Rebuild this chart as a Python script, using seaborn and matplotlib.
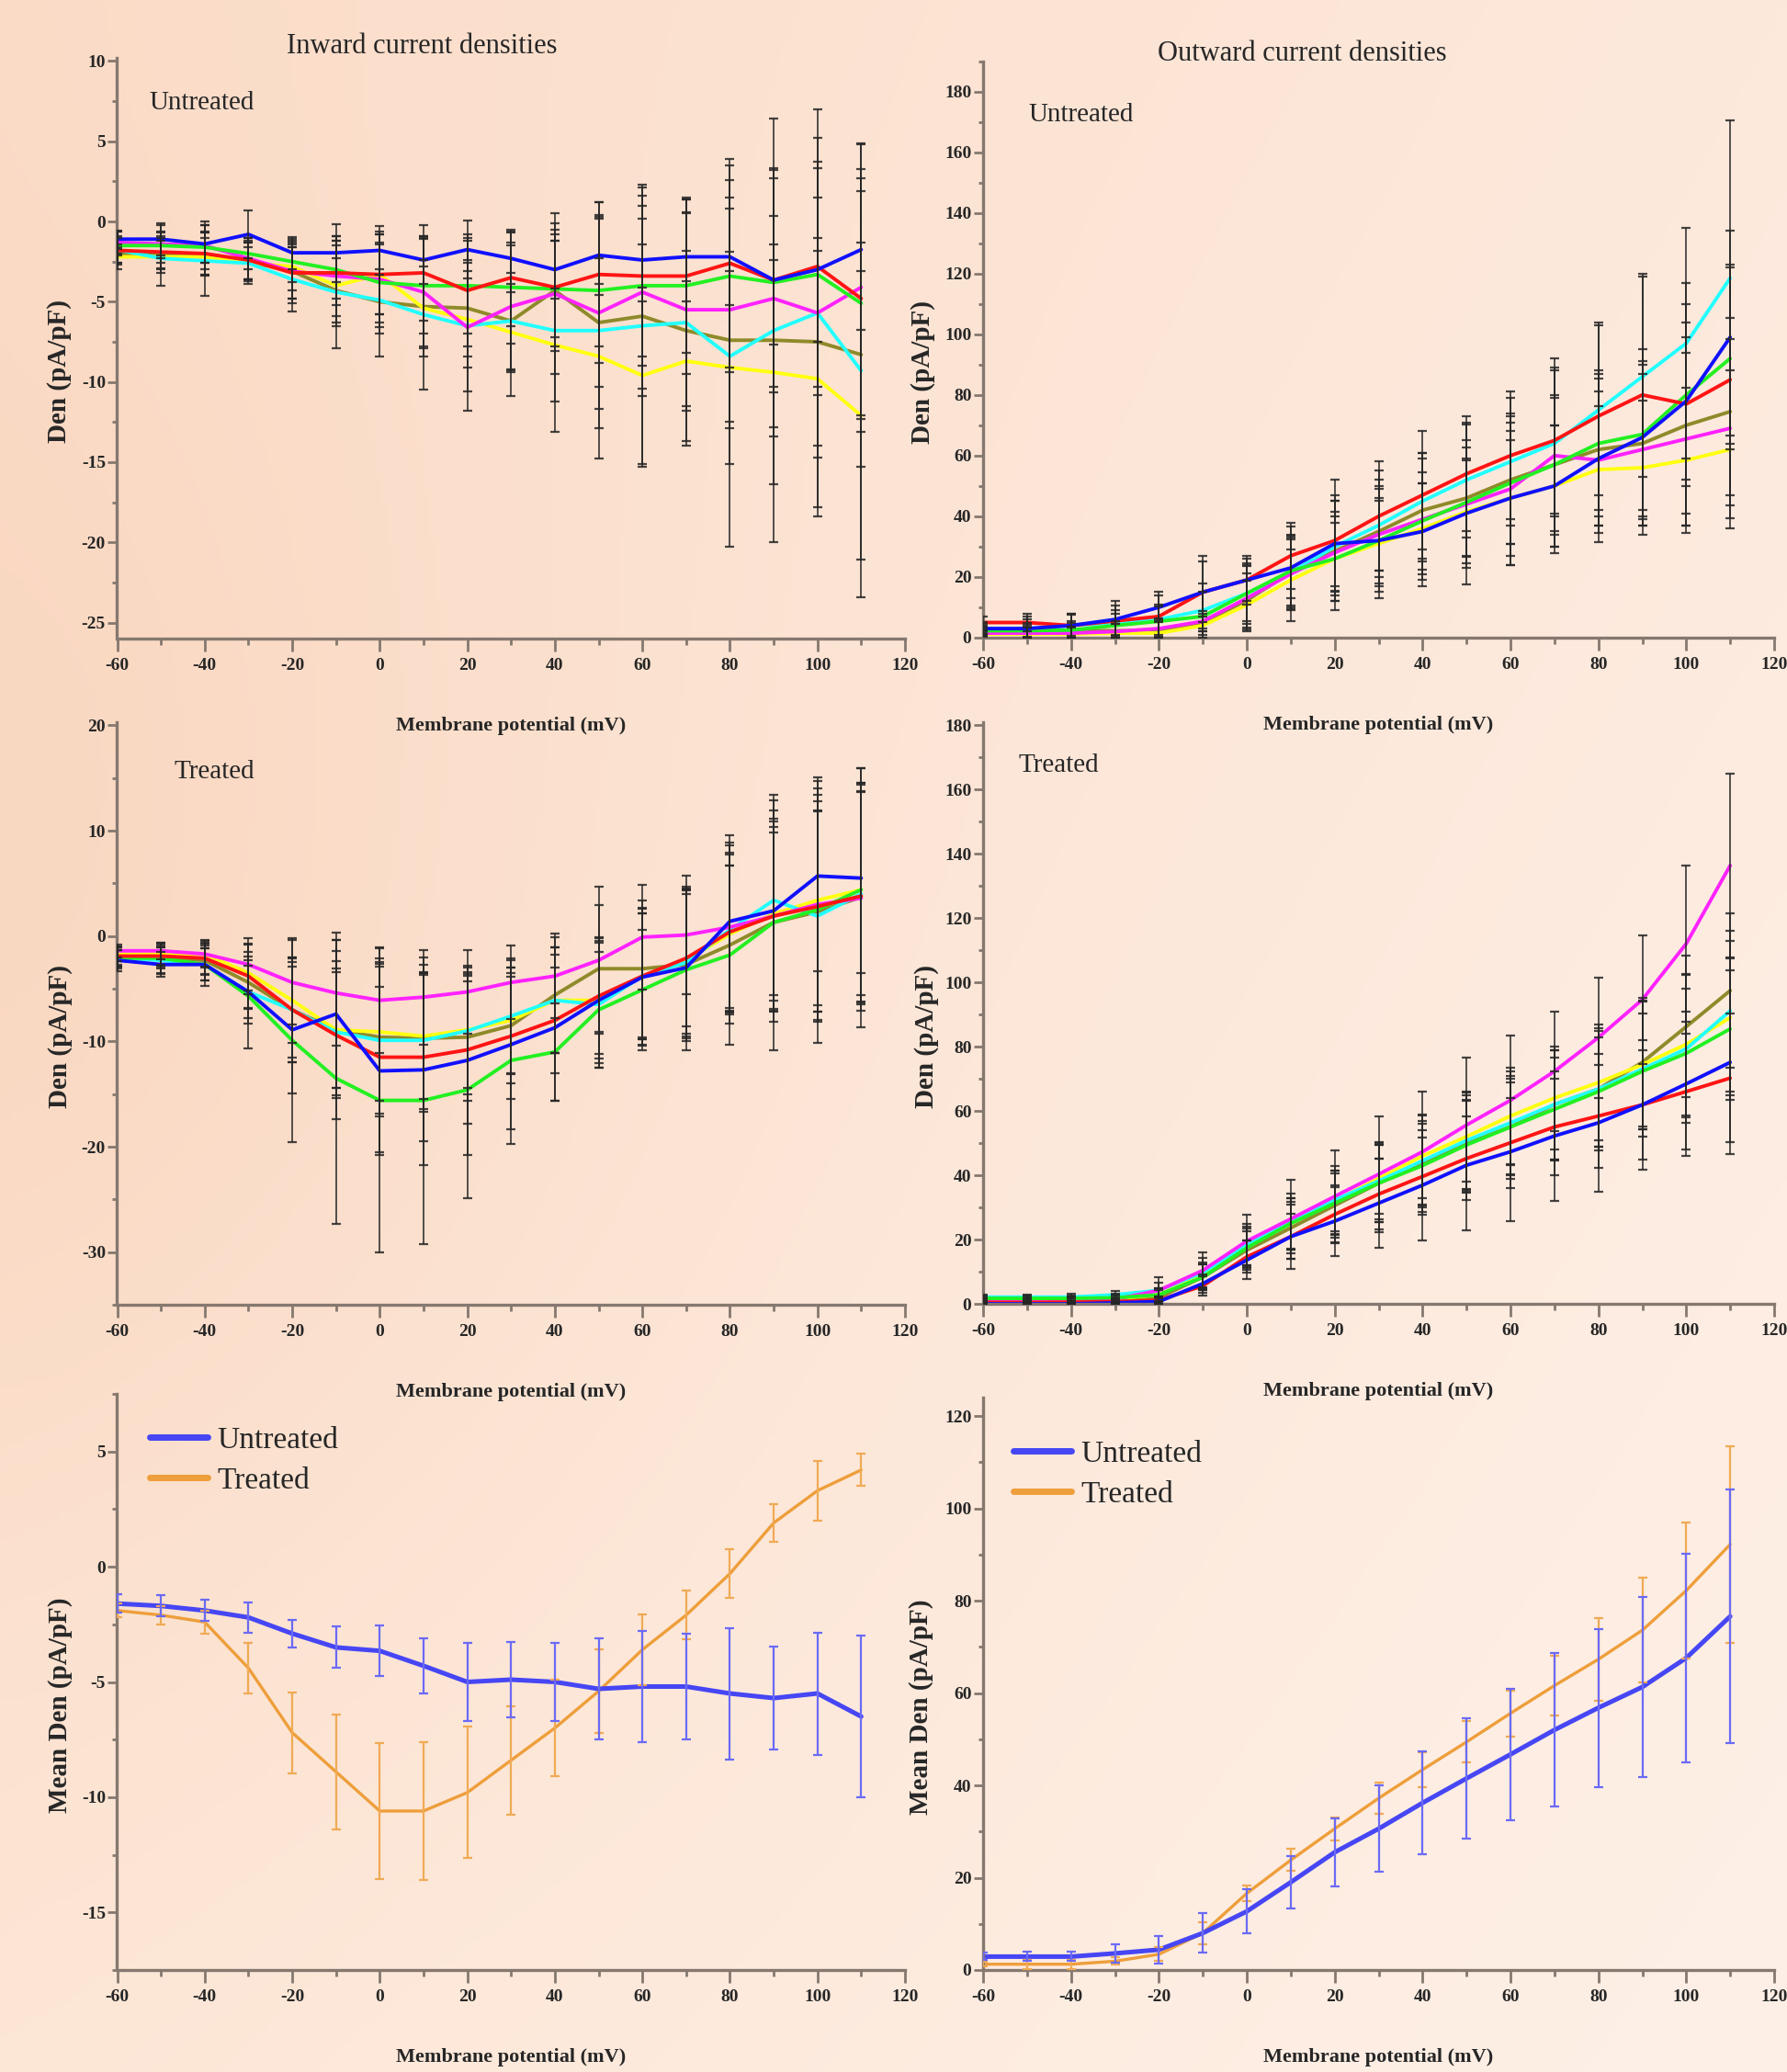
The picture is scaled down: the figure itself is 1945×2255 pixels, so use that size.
import numpy as np
import pandas as pd
import matplotlib
matplotlib.use("Agg")
import matplotlib.pyplot as plt
from matplotlib.ticker import MultipleLocator
from matplotlib.lines import Line2D
import seaborn as sns

# ---------------- data ----------------
VOLTAGES = [-60, -50, -40, -30, -20, -10, 0, 10, 20, 30, 40, 50, 60, 70, 80, 90, 100, 110]
CELLS = ["Cell 1", "Cell 2", "Cell 3", "Cell 4", "Cell 5", "Cell 6", "Cell 7"]
CELL_COLORS = ["#1010FF", "#FF1414", "#22F022", "#FF22FF", "#22FFFF", "#FFFF10", "#8F8A2A"]

# Inward, untreated
IU_BLUE = [-1.1, -1.1, -1.4, -0.8, -1.95, -1.95, -1.8, -2.4, -1.75, -2.3, -3.0, -2.1, -2.4, -2.2, -2.2, -3.65, -3.0, -1.75]
IU_RED = [-1.8, -1.9, -2.0, -2.4, -3.2, -3.2, -3.3, -3.2, -4.3, -3.5, -4.1, -3.3, -3.4, -3.4, -2.6, -3.65, -2.8, -4.8]
IU_GREEN = [-1.5, -1.5, -1.6, -2.0, -2.5, -3.0, -3.8, -4.0, -4.0, -4.1, -4.2, -4.3, -4.0, -4.0, -3.4, -3.8, -3.3, -5.1]
IU_MAGENTA = [-1.3, -1.4, -1.5, -2.3, -3.1, -3.4, -3.6, -4.4, -6.6, -5.3, -4.5, -5.7, -4.4, -5.5, -5.5, -4.8, -5.7, -4.1]
IU_CYAN = [-1.75, -2.3, -2.45, -2.6, -3.6, -4.4, -4.9, -5.8, -6.5, -6.2, -6.8, -6.8, -6.5, -6.3, -8.4, -6.8, -5.7, -9.3]
IU_YELLOW = [-2.2, -2.2, -2.2, -2.6, -2.8, -4.0, -3.3, -5.4, -6.1, -6.9, -7.7, -8.4, -9.6, -8.7, -9.1, -9.4, -9.8, -12.1]
IU_OLIVE = [-2.0, -2.0, -2.0, -2.5, -3.1, -4.3, -5.0, -5.3, -5.4, -6.2, -4.3, -6.3, -5.9, -6.8, -7.4, -7.4, -7.5, -8.3]
IU_BLUE_ERR = [0.5, 1.0, 1.2, 1.5, 1.0, 1.8, 1.5, 1.5, 1.8, 1.6, 1.8, 2.5, 2.6, 2.8, 3.0, 4.0, 4.5, 5.0]
IU_RED_ERR = [0.8, 1.0, 1.3, 1.2, 1.6, 2.0, 2.5, 3.0, 3.5, 3.0, 4.0, 4.5, 5.0, 4.8, 6.5, 7.0, 8.0, 7.5]
IU_GREEN_ERR = [0.6, 0.8, 1.0, 1.0, 1.3, 1.8, 2.5, 3.0, 3.0, 3.5, 3.0, 4.5, 5.0, 5.5, 6.0, 6.5, 7.0, 7.0]
IU_MAGENTA_ERR = [0.7, 1.2, 1.5, 1.3, 2.0, 2.5, 3.0, 3.5, 4.0, 4.0, 5.0, 6.0, 6.5, 6.0, 7.0, 8.0, 9.0, 9.0]
IU_CYAN_ERR = [1.2, 1.7, 2.2, 1.3, 2.0, 3.5, 3.5, 4.7, 5.3, 4.7, 6.3, 8.0, 8.8, 7.7, 11.9, 13.2, 12.7, 14.1]
IU_YELLOW_ERR = [0.5, 1.0, 1.2, 1.0, 1.5, 2.5, 2.5, 3.0, 3.0, 2.5, 3.5, 4.5, 5.5, 5.0, 6.0, 7.0, 8.0, 9.0]
IU_OLIVE_ERR = [0.6, 1.0, 1.3, 1.2, 1.7, 2.0, 2.0, 2.5, 3.0, 3.0, 3.5, 4.0, 4.5, 5.0, 5.5, 6.0, 6.5, 7.0]

# Outward, untreated
OU_BLUE = [3, 3, 4, 6, 10, 15, 19, 23, 31, 32, 35, 41, 46, 50, 59, 66, 78, 99]
OU_RED = [5, 5, 4, 5.5, 7, 15, 19, 27, 32, 40, 47, 54, 60, 65, 73, 80, 77, 85]
OU_GREEN = [2.3, 2.3, 2.5, 4, 5.4, 7, 14.6, 22, 26, 32, 38.5, 44.6, 51, 57, 64, 67, 80, 92]
OU_MAGENTA = [1.5, 1.5, 1.5, 2, 3, 5.4, 13, 21, 28, 34, 39, 44, 49, 60, 58.5, 62, 65.5, 69]
OU_CYAN = [3, 3, 4, 5, 6, 9, 14.6, 21.5, 30, 37, 45, 52, 58, 64, 75, 86, 97, 118.5]
OU_YELLOW = [1.2, 1.2, 1.2, 1.5, 1.5, 4, 10.8, 19, 26, 31, 36, 41.5, 46, 50, 55.4, 56, 58.5, 62]
OU_OLIVE = [2.3, 2.3, 2.3, 2.3, 2.3, 5, 12.3, 21.5, 28.5, 35, 42, 46, 52, 57, 62, 64, 70, 74.5]
OU_BLUE_ERR = [2, 4, 4, 6, 5, 12, 8, 10, 14, 17, 16, 18, 22, 20, 22, 24, 26, 35]
OU_RED_ERR = [2, 3, 4, 5, 7, 10, 7, 11, 20, 18, 21, 19, 21, 24, 31, 40, 40, 38]
OU_GREEN_ERR = [1.5, 2.5, 3, 4, 5, 8, 10, 12, 14, 14, 16, 18, 20, 22, 24, 28, 30, 30]
OU_MAGENTA_ERR = [1, 2, 2, 2.5, 3, 3.4, 11, 15.6, 19, 21, 22, 26.3, 25, 32, 27, 25, 28.5, 29.5]
OU_CYAN_ERR = [1.5, 3, 3.5, 4, 5, 9, 9, 12, 15, 15, 16, 19, 21, 24, 28, 33, 38, 52]
OU_YELLOW_ERR = [1, 2, 2, 3, 4, 3, 8, 10, 12, 14, 15, 17, 19, 20, 21, 22, 24, 26]
OU_OLIVE_ERR = [1.2, 2, 2.5, 3, 4, 3, 9, 11, 13, 15, 17, 19, 21, 23, 25, 27, 29, 31]

# Inward, treated
IT_BLUE = [-2.3, -2.7, -2.7, -5.3, -8.9, -7.4, -12.8, -12.7, -11.8, -10.3, -8.7, -6.1, -3.9, -3.0, 1.4, 2.4, 5.7, 5.5]
IT_RED = [-1.9, -1.9, -2.1, -3.8, -7.0, -9.4, -11.5, -11.5, -10.8, -9.5, -8.0, -5.7, -3.8, -2.1, 0.4, 1.9, 2.8, 3.8]
IT_GREEN = [-2.1, -2.1, -2.7, -5.7, -9.9, -13.5, -15.6, -15.6, -14.6, -11.8, -11.0, -7.0, -5.1, -3.2, -1.8, 1.3, 2.5, 4.4]
IT_MAGENTA = [-1.4, -1.4, -1.7, -2.7, -4.4, -5.4, -6.1, -5.8, -5.3, -4.4, -3.8, -2.3, -0.1, 0.1, 0.85, 1.9, 3.0, 3.6]
IT_CYAN = [-2.1, -2.3, -2.7, -5.3, -7.0, -9.1, -9.9, -9.9, -9.0, -7.6, -6.1, -6.5, -3.8, -2.5, 0.6, 3.4, 1.9, 4.0]
IT_YELLOW = [-1.7, -1.7, -1.7, -3.5, -6.1, -8.9, -9.1, -9.5, -8.9, -8.0, -6.1, -6.1, -3.8, -2.3, 0.2, 2.1, 3.4, 4.4]
IT_OLIVE = [-2.1, -2.1, -2.3, -4.4, -7.0, -8.9, -9.6, -9.7, -9.6, -8.5, -5.6, -3.1, -3.1, -2.7, -0.85, 1.3, 2.3, 3.7]
IT_BLUE_ERR = [1.0, 1.2, 1.5, 3.0, 6.0, 7.0, 8.0, 9.0, 9.0, 8.0, 6.9, 6.0, 6.5, 7.0, 8.2, 8.0, 9.0, 9.0]
IT_RED_ERR = [0.8, 1.0, 1.5, 3.0, 5.0, 8.0, 9.0, 8.0, 7.0, 6.0, 5.0, 5.5, 6.0, 6.5, 7.5, 9.0, 10.0, 10.0]
IT_GREEN_ERR = [1.0, 1.5, 2.0, 5.0, 9.7, 13.8, 14.4, 13.6, 10.3, 7.9, 4.6, 5.5, 5.7, 7.6, 8.5, 12.1, 12.6, 11.5]
IT_MAGENTA_ERR = [0.6, 0.8, 1.2, 2.5, 4.0, 5.0, 5.0, 4.5, 4.0, 3.5, 4.0, 7.0, 5.0, 5.6, 8.0, 10.0, 11.0, 12.3]
IT_CYAN_ERR = [0.8, 1.2, 1.5, 2.5, 4.5, 6.0, 7.0, 6.5, 6.0, 5.5, 5.0, 6.0, 6.5, 7.0, 8.0, 9.5, 10.0, 10.5]
IT_YELLOW_ERR = [0.7, 1.0, 1.3, 2.0, 4.0, 5.5, 6.5, 6.0, 5.5, 5.0, 5.0, 5.5, 6.0, 7.0, 7.5, 9.0, 10.0, 10.0]
IT_OLIVE_ERR = [0.8, 1.0, 1.4, 2.5, 5.0, 6.5, 7.5, 7.0, 6.0, 5.5, 5.5, 6.0, 6.5, 7.0, 7.5, 8.5, 9.5, 10.0]

# Outward, treated
OT_BLUE = [0, 0, 0, 0.3, 0.7, 6.3, 13.6, 20.9, 25.7, 31.3, 36.9, 43.1, 47.3, 52.2, 56.3, 61.9, 68.4, 75.1]
OT_RED = [0.4, 0.4, 0.5, 0.7, 1.1, 5.6, 14.6, 20.9, 27.8, 34.1, 39.6, 45.2, 50.1, 55, 58.4, 61.9, 66, 70.2]
OT_GREEN = [1.7, 1.7, 1.7, 1.9, 2.8, 8.3, 17.4, 25, 31.3, 37.5, 43, 49.4, 55, 60.5, 66, 72.3, 77.9, 85.5]
OT_MAGENTA = [0.7, 0.7, 0.7, 1.4, 4.2, 10.4, 19.5, 26.4, 33.4, 40.3, 47.3, 55.6, 63.3, 72.3, 82.8, 94.6, 112, 136.3]
OT_CYAN = [2.1, 2.1, 2.1, 2.8, 4.2, 9.7, 18.4, 25.7, 32.3, 38.2, 44.5, 50.8, 56.3, 62, 66.8, 73, 79.3, 91.1]
OT_YELLOW = [1.4, 1.4, 1.4, 1.6, 2.8, 9, 18, 25, 32, 39, 46, 52, 58.4, 64, 68.8, 74.4, 80.7, 89]
OT_OLIVE = [1, 1, 1, 1, 2, 8.3, 16.7, 23.6, 30.6, 37.5, 43.8, 50, 55, 62, 66.8, 75.1, 86.2, 97.4]
OT_BLUE_ERR = [0.5, 0.5, 0.5, 0.8, 1.5, 2.8, 6, 9.9, 10.7, 13.9, 17.2, 20.1, 21.6, 20.2, 21.3, 20.2, 22.5, 28.5]
OT_RED_ERR = [0.5, 0.5, 0.6, 0.8, 1.2, 3, 5, 7, 9, 11, 12, 13, 14, 15, 16, 17, 18, 20]
OT_GREEN_ERR = [0.8, 0.8, 1, 1.2, 2, 4, 6, 8, 10, 12, 13, 14, 15, 16, 17, 18, 20, 22]
OT_MAGENTA_ERR = [1, 1, 1, 1.5, 4, 5.6, 8.3, 12.3, 14.2, 18.1, 18.7, 20.9, 20.1, 18.7, 18.7, 20.1, 24.3, 28.5]
OT_CYAN_ERR = [0.9, 0.9, 1.1, 1.2, 2.5, 4.5, 6.5, 8.5, 10.5, 12, 14, 15, 16, 17, 19, 21, 23, 25]
OT_YELLOW_ERR = [0.8, 0.8, 1, 1.1, 2, 4, 6, 8, 9.5, 11, 13, 14, 15, 16, 18, 20, 22, 24]
OT_OLIVE_ERR = [0.8, 0.8, 1, 1.1, 2.2, 4, 6, 8, 10, 12, 13, 15, 16, 17, 18, 20, 22, 24]

# Means
MI_UNTR = [-1.6, -1.7, -1.9, -2.2, -2.9, -3.5, -3.65, -4.3, -5.0, -4.9, -5.0, -5.3, -5.2, -5.2, -5.5, -5.7, -5.5, -6.5]
MI_UNTR_ERR = [0.4, 0.45, 0.45, 0.65, 0.6, 0.9, 1.1, 1.2, 1.7, 1.65, 1.7, 2.2, 2.4, 2.3, 2.85, 2.25, 2.65, 3.5]
MI_TREAT = [-1.9, -2.1, -2.4, -4.4, -7.2, -8.9, -10.6, -10.6, -9.8, -8.4, -7.0, -5.4, -3.6, -2.1, -0.3, 1.9, 3.3, 4.2]
MI_TREAT_ERR = [0.3, 0.4, 0.5, 1.1, 1.75, 2.5, 2.95, 3.0, 2.85, 2.35, 2.1, 1.8, 1.55, 1.05, 1.05, 0.8, 1.3, 0.7]
MO_UNTR = [2.9, 2.9, 2.9, 3.6, 4.4, 8, 12.7, 19, 25.5, 30.6, 36.2, 41.5, 46.7, 52, 56.8, 61.3, 67.6, 76.6]
MO_UNTR_ERR = [0.8, 1, 1, 2, 3, 4.3, 4.8, 5.7, 7.3, 9.4, 11.2, 13, 14.3, 16.6, 17.1, 19.5, 22.6, 27.5]
MO_TREAT = [1.25, 1.25, 1.25, 1.9, 3.4, 8, 16.6, 23.8, 30.6, 37.2, 43.4, 49.4, 55.6, 61.6, 67.3, 73.6, 82.2, 92.2]
MO_TREAT_ERR = [0.5, 1, 1, 0.8, 1.5, 2.4, 1.7, 2.4, 2.5, 3.4, 3.8, 4.5, 5, 6.5, 8.9, 11.3, 14.8, 21.3]

GROUPS = ["Untreated", "Treated"]
GROUP_COLORS = {"Untreated": "#4646F4", "Treated": "#EE9E3A"}
GROUP_ERR_COLORS = {"Untreated": "#6A6AF6", "Treated": "#F0AA55"}

# ---------------- style ----------------
sns.set_style("ticks")
plt.rcParams["font.family"] = ["Liberation Serif", "DejaVu Serif"]
plt.rcParams["axes.unicode_minus"] = False

W, H = 1945, 2255
fig = plt.figure(figsize=(W / 100, H / 100), dpi=100)

# background gradient
gy, gx = np.mgrid[0:1:300j, 0:1:300j]
tl = np.array([251, 221, 201]); tr = np.array([253, 233, 220])
bl = np.array([253, 231, 215]); br = np.array([254, 240, 231])
grad = (tl * ((1 - gx) * (1 - gy))[..., None] + tr * (gx * (1 - gy))[..., None]
        + bl * ((1 - gx) * gy)[..., None] + br * (gx * gy)[..., None])
shade = np.exp(-((gx / 0.35) ** 2 + ((gy - 0.45) / 0.35) ** 2))
grad = grad - shade[..., None] * np.array([2, 9, 13])
bg = fig.add_axes([0, 0, 1, 1], zorder=-10)
bg.imshow(np.clip(grad, 0, 255).astype(np.uint8), aspect="auto", extent=[0, 1, 0, 1], origin="upper")
bg.axis("off")

SPINE = "#85786F"


def rect(l, t, r, b):
    return [l / W, 1 - b / H, (r - l) / W, (b - t) / H]


def style_axes(ax, box, ylim, ymajor, yminor, ylabel, ylab_x):
    l, t, r, b = box
    ax.set_facecolor("none")
    ax.set_xlim(-60, 120)
    ax.set_ylim(*ylim)
    for s in ["top", "right"]:
        ax.spines[s].set_visible(False)
    for s in ["left", "bottom"]:
        ax.spines[s].set_color(SPINE)
        ax.spines[s].set_linewidth(2.4)
    xt = list(range(-60, 121, 20))
    ax.set_xticks(xt)
    ax.set_xticklabels([str(v) for v in xt], fontweight="bold", fontsize=14)
    ax.xaxis.set_minor_locator(MultipleLocator(10))
    lo = ymajor * np.ceil(ylim[0] / ymajor)
    yt = np.arange(lo, ylim[1] + 1e-9, ymajor)
    ax.set_yticks(yt)
    ax.set_yticklabels([f"{v:g}" for v in yt], fontweight="bold", fontsize=14)
    ax.yaxis.set_minor_locator(MultipleLocator(yminor))
    ax.set_ylim(*ylim)
    ax.tick_params(axis="x", which="major", direction="out", length=10, width=2, pad=5, color=SPINE)
    ax.tick_params(axis="x", which="minor", direction="out", length=5, width=2, color=SPINE)
    ax.tick_params(axis="y", which="major", direction="out", length=7, width=2, pad=2, color=SPINE)
    ax.tick_params(axis="y", which="minor", direction="out", length=3.5, width=2, color=SPINE)
    hpx = b - t
    wpx = r - l
    ax.set_xlabel("Membrane potential (mV)", fontsize=16, fontweight="bold", va="center")
    ax.xaxis.set_label_coords(0.5, -95 / hpx)
    ax.set_ylabel(ylabel, fontsize=21, fontweight="bold", va="center")
    ax.yaxis.set_label_coords((ylab_x - l) / wpx, 0.46)


def cell_panel(ax, series, errors):
    rows = []
    for name, vals in zip(CELLS, series):
        for v, d in zip(VOLTAGES, vals):
            rows.append({"mV": v, "Den": d, "Cell": name})
    df = pd.DataFrame(rows)
    order = [CELLS[i] for i in [6, 5, 4, 3, 2, 1, 0]]
    pal = dict(zip(CELLS, CELL_COLORS))
    sns.lineplot(data=df, x="mV", y="Den", hue="Cell", hue_order=order, palette=pal,
                 estimator=None, sort=False, linewidth=2.8, legend=False, ax=ax, zorder=2)
    for vals, err in zip(series, errors):
        ax.errorbar(VOLTAGES, vals, yerr=err, fmt="none", ecolor="#262626", elinewidth=1.3,
                    capsize=3.5, capthick=1.6, alpha=0.85, zorder=3)


def mean_panel(ax, untr, untr_err, treat, treat_err):
    df = pd.DataFrame({"mV": VOLTAGES * 2, "Den": untr + treat,
                       "Group": ["Untreated"] * len(VOLTAGES) + ["Treated"] * len(VOLTAGES)})
    sns.lineplot(data=df[df.Group == "Treated"], x="mV", y="Den", color=GROUP_COLORS["Treated"],
                 estimator=None, sort=False, linewidth=2.4, ax=ax, legend=False, zorder=2)
    sns.lineplot(data=df[df.Group == "Untreated"], x="mV", y="Den", color=GROUP_COLORS["Untreated"],
                 estimator=None, sort=False, linewidth=3.6, ax=ax, legend=False, zorder=2.5)
    ax.errorbar(VOLTAGES, treat, yerr=treat_err, fmt="none", ecolor=GROUP_ERR_COLORS["Treated"],
                elinewidth=1.6, capsize=3.5, capthick=1.6, zorder=3)
    ax.errorbar(VOLTAGES, untr, yerr=untr_err, fmt="none", ecolor=GROUP_ERR_COLORS["Untreated"],
                elinewidth=1.6, capsize=3.5, capthick=1.6, zorder=3)


# panel boxes in pixels (left, top, right, bottom)
B1 = (127.5, 63, 985, 695)
B2 = (1070, 66.5, 1931, 694)
B3 = (127.5, 786, 985, 1420)
B4 = (1070, 785.5, 1931, 1419)
B5 = (127.5, 1517, 985, 2144)
B6 = (1070, 1521, 1931, 2144)

ax1 = fig.add_axes(rect(*B1))
cell_panel(ax1, [IU_BLUE, IU_RED, IU_GREEN, IU_MAGENTA, IU_CYAN, IU_YELLOW, IU_OLIVE],
           [IU_BLUE_ERR, IU_RED_ERR, IU_GREEN_ERR, IU_MAGENTA_ERR, IU_CYAN_ERR, IU_YELLOW_ERR, IU_OLIVE_ERR])
style_axes(ax1, B1, (-26, 10.2), 5, 2.5, "Den (pA/pF)", 65)

ax2 = fig.add_axes(rect(*B2))
cell_panel(ax2, [OU_BLUE, OU_RED, OU_GREEN, OU_MAGENTA, OU_CYAN, OU_YELLOW, OU_OLIVE],
           [OU_BLUE_ERR, OU_RED_ERR, OU_GREEN_ERR, OU_MAGENTA_ERR, OU_CYAN_ERR, OU_YELLOW_ERR, OU_OLIVE_ERR])
style_axes(ax2, B2, (0, 190), 20, 10, "Den (pA/pF)", 1004)

ax3 = fig.add_axes(rect(*B3))
cell_panel(ax3, [IT_BLUE, IT_RED, IT_GREEN, IT_MAGENTA, IT_CYAN, IT_YELLOW, IT_OLIVE],
           [IT_BLUE_ERR, IT_RED_ERR, IT_GREEN_ERR, IT_MAGENTA_ERR, IT_CYAN_ERR, IT_YELLOW_ERR, IT_OLIVE_ERR])
style_axes(ax3, B3, (-35, 20.3), 10, 5, "Den (pA/pF)", 66)

ax4 = fig.add_axes(rect(*B4))
cell_panel(ax4, [OT_BLUE, OT_RED, OT_GREEN, OT_MAGENTA, OT_CYAN, OT_YELLOW, OT_OLIVE],
           [OT_BLUE_ERR, OT_RED_ERR, OT_GREEN_ERR, OT_MAGENTA_ERR, OT_CYAN_ERR, OT_YELLOW_ERR, OT_OLIVE_ERR])
style_axes(ax4, B4, (0, 181), 20, 10, "Den (pA/pF)", 1008)

ax5 = fig.add_axes(rect(*B5))
mean_panel(ax5, MI_UNTR, MI_UNTR_ERR, MI_TREAT, MI_TREAT_ERR)
style_axes(ax5, B5, (-17.5, 7.5), 5, 2.5, "Mean Den (pA/pF)", 66)

ax6 = fig.add_axes(rect(*B6))
mean_panel(ax6, MO_UNTR, MO_UNTR_ERR, MO_TREAT, MO_TREAT_ERR)
style_axes(ax6, B6, (0, 124), 20, 10, "Mean Den (pA/pF)", 1003)

for ax, box, anchor in [(ax5, B5, (0.0414, 0.944)), (ax6, B6, (0.0383, 0.926))]:
    handles = [Line2D([], [], color=GROUP_COLORS[g], lw=5) for g in GROUPS]
    ax.legend(handles, GROUPS, loc="upper left", bbox_to_anchor=anchor, frameon=False,
              fontsize=24, handlelength=1.9, handletextpad=0.3, labelspacing=0.42,
              borderpad=0, borderaxespad=0)


def ftext(x, y, s, size, **kw):
    fig.text(x / W, 1 - y / H, s, fontsize=size, ha="center", va="center", **kw)


ftext(459, 51, "Inward current densities", 22)
ftext(1417, 59, "Outward current densities", 22)
ftext(220, 112, "Untreated", 21)
ftext(1177, 125, "Untreated", 21)
ftext(233, 840, "Treated", 21)
ftext(1152, 833, "Treated", 21)

fig.savefig("out.png", dpi=100)
